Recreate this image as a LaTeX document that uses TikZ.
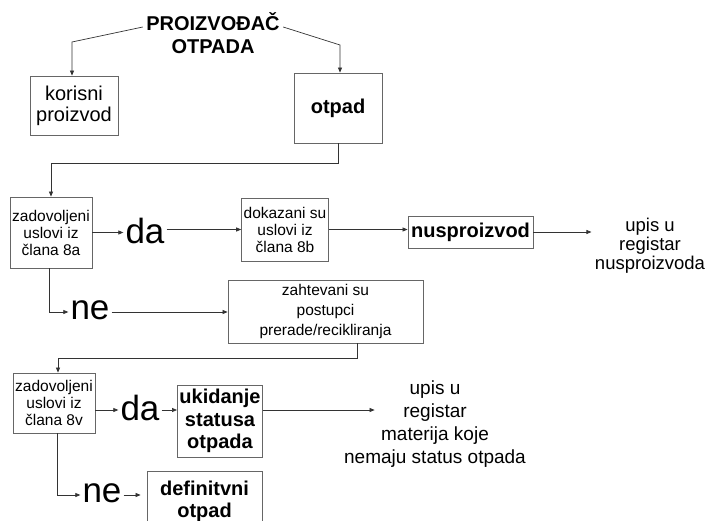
\documentclass[tikz,border=0pt]{standalone}
\usepackage{fontspec}
\setmainfont{Liberation Sans}
\usetikzlibrary{arrows.meta}
\begin{document}
\begin{tikzpicture}[x=1pt,y=-1pt,
  box/.style={draw=black!60, line width=0.8pt, align=center, inner sep=2pt},
  small/.style={font=\fontsize{15.5}{17}\selectfont},
  big/.style={font=\fontsize{20}{22.5}\selectfont\bfseries},
  note/.style={align=center, font=\fontsize{19}{20}\selectfont},
  word/.style={font=\fontsize{35}{35}\selectfont, inner sep=2pt},
  arr/.style={draw=black!80, line width=0.7pt, -{Triangle[length=5pt,width=4pt]}}]
\useasboundingbox (0,0) rectangle (711,521);
\clip (0,0) rectangle (711,521);

% top
\node [align=center, font=\fontsize{20}{23}\selectfont\bfseries] (title) at (213,33) {PROIZVOĐAČ\\OTPADA};
\node [box, minimum width=88, minimum height=59, font=\fontsize{20}{21}\selectfont] (korisni) at (74,105.5) {korisni\\proizvod};
\node [box, big, minimum width=88, minimum height=70] (otpad) at (338,108) {otpad};
\draw [arr] ([yshift=6pt]title.west) -- (72,42) -- (korisni.north -| 72,0);
\draw [arr] ([yshift=6pt]title.east) -- (340,45) -- (otpad.north -| 340,0);

% first condition
\node [box, small, minimum width=82, minimum height=71] (cond8a) at (51,232.5) {zadovoljeni\\uslovi iz\\člana 8a};
\node [word] (da1) at (145,231) {da};
\node [box, small, minimum width=86, minimum height=63] (dokazani) at (285,229.5) {dokazani su\\uslovi iz\\člana 8b};
\node [box, big, minimum width=125, minimum height=32] (nus) at (470.5,232) {nusproizvod};
\node [note, font=\fontsize{18.5}{19}\selectfont] (upis1) at (650,246) {upis u\\registar\\nusproizvoda};
\node [word] (ne1) at (90,310) {ne};
\node [box, align=center, font=\fontsize{15.5}{20}\selectfont, minimum width=195, minimum height=63] (zahtevani) at (325.5,311.5) {zahtevani su\\postupci\\prerade/recikliranja};

\draw [arr] (otpad.south) -- ++(0,20) -| (cond8a.north);
\draw [arr] (cond8a.east) -- (cond8a.east -| da1.west);
\draw [arr] (da1.east |- dokazani.west) -- (dokazani.west);
\draw [arr] (dokazani.east) -- (dokazani.east -| nus.west);
\draw [arr] (nus.east) -- (nus.east -| upis1.west);
\draw [arr] ([xshift=-2pt]cond8a.south) |- (ne1.west |- 0,312);
\draw [arr] (ne1.east |- 0,312) -- (zahtevani.west |- 0,312);

% second condition
\node [box, small, minimum width=82, minimum height=60] (cond8v) at (54,403) {zadovoljeni\\uslovi iz\\člana 8v};
\node [word] (da2) at (140,408) {da};
\node [box, big, minimum width=84, minimum height=72] (ukidanje) at (220,421) {ukidanje\\statusa\\otpada};
\node [note, font=\fontsize{19}{23}\selectfont] (upis2) at (435,424) {upis u\\registar\\materija koje\\nemaju status otpada};
\node [word] (ne2) at (102,493) {ne};
\node [box, big, minimum width=115, minimum height=60, anchor=north] (defin) at (204.5,471) {definitvni\\otpad};

\draw [arr] ([xshift=32pt]zahtevani.south) -- ++(0,15) -| ([xshift=4pt]cond8v.north);
\draw [arr] (cond8v.east |- 0,410) -- (da2.west |- 0,410);
\draw [arr] (da2.east |- 0,410) -- (ukidanje.west |- 0,410);
\draw [arr] (ukidanje.east |- 0,410) -- ([xshift=34pt]upis2.west |- 0,410);
\draw [arr] ([xshift=3pt]cond8v.south) |- (ne2.west |- 0,495);
\draw [arr] (ne2.east |- 0,495) -- ([xshift=-6pt]defin.west |- 0,495);
\end{tikzpicture}
\end{document}
